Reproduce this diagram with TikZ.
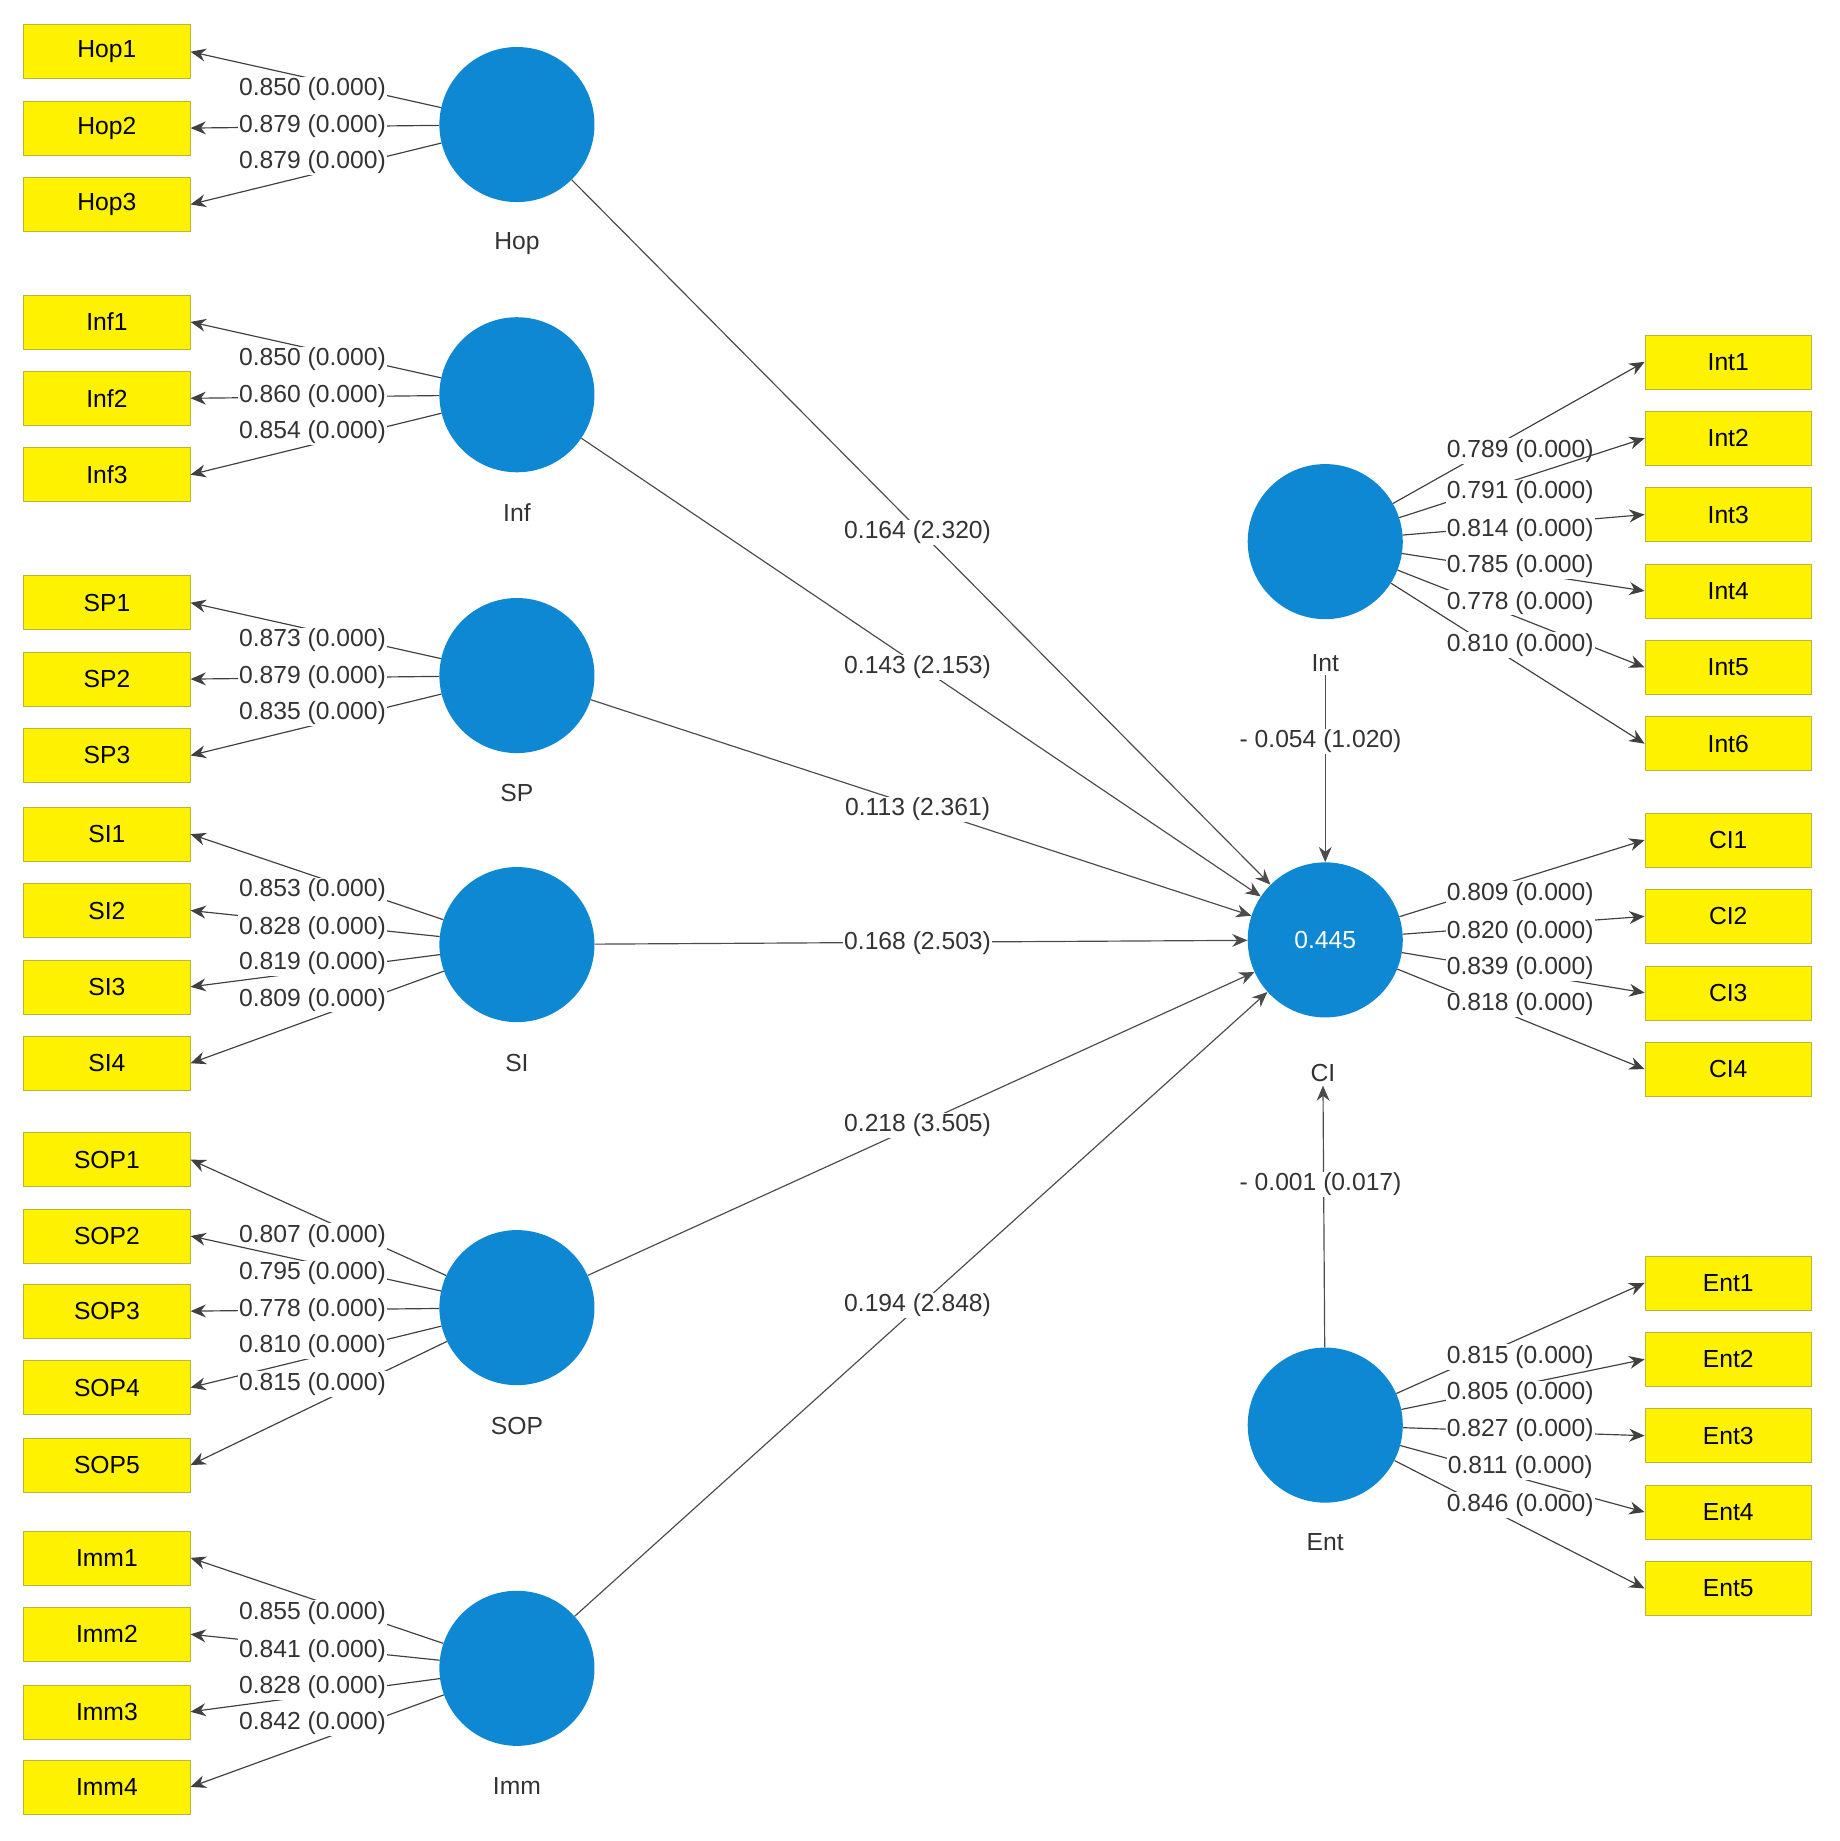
\documentclass[tikz,border=0pt]{standalone}
\usepackage{fontspec}
\setmainfont{Liberation Sans}
\usetikzlibrary{arrows.meta}
\begin{document}
\begin{tikzpicture}[x=1pt,y=-1pt,
  ind/.style={draw=yellow!70!black,fill=yellow,minimum width=142pt,minimum height=46pt,font=\fontsize{21}{21}\selectfont,inner sep=0pt},
  lat/.style={circle,fill=cyan!70!blue,minimum size=132pt,inner sep=0pt,font=\fontsize{21}{21}\selectfont\color{white}},
  lab/.style={font=\fontsize{21}{21}\selectfont,text=black!80,inner sep=1pt,fill=white},
  nm/.style={font=\fontsize{21}{21}\selectfont,text=black!80},
  arr/.style={draw=black!75,line width=1pt,-{Stealth[length=13pt,width=11pt]}},
  pth/.style={draw=black!70,line width=1pt,-{Stealth[length=13pt,width=11pt]}}]
\useasboundingbox (0,0) rectangle (1566,1567);
% latent
\foreach \n/\x/\y/\ly in {Hop/440/106/207,Inf/440/336/436,SP/440/575/675,SI/440/804/905,SOP/440/1113/1214,Imm/440/1420/1520,Int/1128/461/564,Ent/1128/1213/1313}{
  \node[lat] (\n) at (\x,\y) {};
  \node[nm] (\n-l) at (\x,\ly) {\n};}
\node[lat] (CI) at (1128,800) {0.445};
\node[nm] (CI-l) at (1126,913) {CI};
% left indicators
\foreach \c/\b/\y/\lab/\ly in {
Hop/Hop1/44/0.850 (0.000)/76, Hop/Hop2/109/0.879 (0.000)/107, Hop/Hop3/174/0.879 (0.000)/138,
Inf/Inf1/274/0.850 (0.000)/306, Inf/Inf2/339/0.860 (0.000)/337, Inf/Inf3/404/0.854 (0.000)/368,
SP/SP1/513/0.873 (0.000)/545, SP/SP2/578/0.879 (0.000)/576, SP/SP3/643/0.835 (0.000)/607,
SI/SI1/710/0.853 (0.000)/758, SI/SI2/775/0.828 (0.000)/790, SI/SI3/840/0.819 (0.000)/820, SI/SI4/905/0.809 (0.000)/851,
SOP/SOP1/987/0.807 (0.000)/1052, SOP/SOP2/1052/0.795 (0.000)/1084, SOP/SOP3/1116/0.778 (0.000)/1115, SOP/SOP4/1181/0.810 (0.000)/1146, SOP/SOP5/1247/0.815 (0.000)/1178,
Imm/Imm1/1326/0.855 (0.000)/1373, Imm/Imm2/1391/0.841 (0.000)/1405, Imm/Imm3/1457/0.828 (0.000)/1436, Imm/Imm4/1521/0.842 (0.000)/1467}{
  \node[ind] (\b) at (91,\y) {\b};
  \draw[arr] (\c) -- (\b.east);
  \node[lab] (\b-w) at (266,\ly) {\lab};}
% right indicators
\foreach \c/\b/\y/\lab/\ly in {
Int/Int1/308/0.789 (0.000)/384, Int/Int2/373/0.791 (0.000)/419, Int/Int3/438/0.814 (0.000)/451, Int/Int4/503/0.785 (0.000)/482, Int/Int5/568/0.778 (0.000)/513, Int/Int6/633/0.810 (0.000)/549,
CI/CI1/715/0.809 (0.000)/761, CI/CI2/780/0.820 (0.000)/793, CI/CI3/845/0.839 (0.000)/824, CI/CI4/910/0.818 (0.000)/855,
Ent/Ent1/1092/0.815 (0.000)/1155, Ent/Ent2/1157/0.805 (0.000)/1186, Ent/Ent3/1222/0.827 (0.000)/1217, Ent/Ent4/1287/0.811 (0.000)/1249, Ent/Ent5/1352/0.846 (0.000)/1281}{
  \node[ind] (\b) at (1471,\y) {\b};
  \draw[arr] (\c) -- (\b.west);
  \node[lab] (\b-w) at (1294,\ly) {\lab};}
% structural paths
\foreach \s/\lab/\lx/\ly in {Hop/0.164 (2.320)/781/453, Inf/0.143 (2.153)/781/568, SP/0.113 (2.361)/781/689, SI/0.168 (2.503)/781/803, SOP/0.218 (3.505)/781/958, Imm/0.194 (2.848)/781/1111}{
  \draw[pth] (\s) -- (CI);
  \node[lab] (\s-p) at (\lx,\ly) {\lab};}
\draw[pth] (Int-l) -- (CI);
\node[lab] (Int-p) at (1124,631) {- 0.054 (1.020)};
\draw[pth] (Ent) -- (CI-l);
\node[lab] (Ent-p) at (1124,1008) {- 0.001 (0.017)};
\end{tikzpicture}
\end{document}
